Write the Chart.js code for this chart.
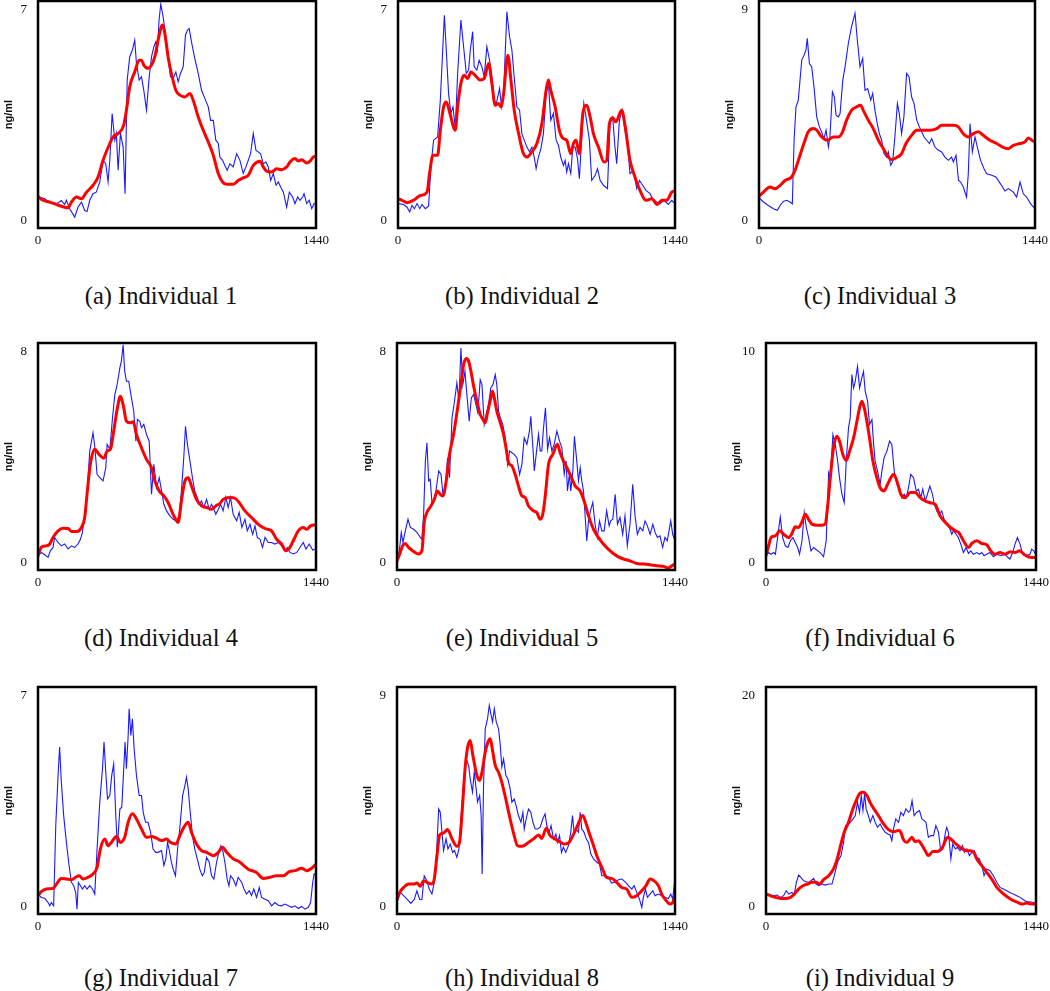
<!DOCTYPE html>
<html>
<head>
<meta charset="utf-8">
<script src="https://cdn.jsdelivr.net/npm/chart.js@4.4.0/dist/chart.umd.min.js"></script>
<style>
  body { margin: 0; background: #fff; width: 1050px; height: 991px; position: relative; overflow: hidden; }
  canvas { position: absolute; }
  .cap { position: absolute; font-family: "Liberation Serif", "Times New Roman", serif; font-size: 24.5px;
         line-height: 24px; white-space: nowrap; transform: translateX(-50%); color: #111; }
</style>
</head>
<body>
<script>
// x axis: minutes of the day, y axis: ng/ml
const xTicks = [0, 1440];
const yTickMax = [7, 7, 9, 8, 8, 10, 7, 9, 20];
const captions = ['(a) Individual 1', '(b) Individual 2', '(c) Individual 3',
                  '(d) Individual 4', '(e) Individual 5', '(f) Individual 6',
                  '(g) Individual 7', '(h) Individual 8', '(i) Individual 9'];

// [minute, ng/ml] -- blue = measured, red = fitted
const ind1Measured = [[5,0.78],[35,0.72],[60,0.6],[95,0.55],[121,0.66],[138,0.53],[147,0.67],[164,0.39],[190,0.11],[207,0.44],[225,0.61],[242,0.33],[254,0.3],[268,0.67],[285,0.89],[302,0.94],[320,1.28],[337,2.0],[351,1.89],[363,1.28],[372,2.0],[384,3.56],[398,2.67],[406,2.89],[415,1.67],[427,2.89],[441,2.44],[451,0.89],[462,4.67],[475,5.44],[489,5.67],[501,6.0],[510,5.22],[524,4.67],[536,4.78],[548,4.33],[562,3.67],[576,4.78],[588,5.44],[600,5.78],[610,5.94],[619,5.67],[627,6.67],[636,7.2],[648,6.78],[660,6.22],[674,5.44],[686,4.78],[700,4.72],[714,4.94],[726,4.61],[738,4.89],[752,5.11],[764,6.17],[774,6.33],[783,6.39],[795,5.94],[812,5.39],[830,4.89],[847,4.33],[864,4.06],[882,3.78],[894,3.33],[908,3.33],[921,2.67],[934,2.56],[942,2.11],[956,2.0],[968,1.83],[980,1.67],[994,1.89],[1011,1.78],[1029,2.22],[1046,2.0],[1063,1.56],[1077,1.78],[1089,2.0],[1101,2.22],[1115,2.89],[1129,2.33],[1141,2.28],[1153,2.22],[1167,1.89],[1181,1.94],[1193,1.78],[1205,1.33],[1219,1.56],[1233,1.17],[1245,1.28],[1257,1.11],[1271,0.94],[1288,0.44],[1302,0.94],[1319,0.78],[1331,0.56],[1345,0.78],[1357,0.67],[1371,0.78],[1378,0.89],[1392,0.56],[1405,0.67],[1418,0.39],[1430,0.56],[1440,0.56]];
const ind1Fitted = [[0,0.8],[26,0.67],[60,0.61],[95,0.53],[138,0.44],[156,0.42],[173,0.61],[199,0.78],[225,0.72],[251,0.94],[285,1.17],[311,1.44],[337,2.0],[372,2.56],[389,2.78],[415,2.89],[444,3.17],[458,3.67],[475,4.44],[501,4.94],[524,5.33],[536,5.33],[548,5.17],[570,5.06],[588,5.17],[605,5.44],[622,6.0],[645,6.5],[657,6.22],[674,5.44],[691,4.89],[714,4.33],[735,4.17],[761,4.11],[787,4.22],[804,4.0],[830,3.44],[856,3.0],[882,2.61],[908,2.17],[934,1.56],[956,1.28],[977,1.2],[1011,1.2],[1037,1.33],[1063,1.42],[1089,1.5],[1115,1.83],[1150,1.97],[1167,1.78],[1184,1.64],[1210,1.61],[1236,1.72],[1262,1.69],[1288,1.78],[1305,1.94],[1331,2.06],[1348,1.98],[1366,2.02],[1392,1.91],[1409,1.97],[1426,2.11],[1440,2.13]];

const ind2Measured = [[3,0.56],[29,0.53],[47,0.44],[61,0.28],[73,0.5],[85,0.39],[99,0.56],[113,0.39],[125,0.53],[142,0.39],[159,0.47],[171,1.78],[185,2.67],[206,2.78],[220,4.0],[241,6.83],[251,5.67],[263,4.22],[275,3.56],[286,3.78],[298,3.06],[310,4.89],[327,6.67],[341,5.78],[355,4.89],[367,5.0],[376,5.67],[388,6.28],[396,5.11],[410,5.0],[422,5.33],[436,5.11],[448,4.78],[462,5.78],[476,5.33],[488,4.78],[500,4.0],[511,3.89],[528,4.39],[538,3.78],[549,4.22],[566,6.94],[580,6.11],[592,5.67],[604,4.78],[618,3.78],[632,3.67],[644,2.89],[656,2.67],[670,2.44],[684,2.28],[696,2.44],[708,2.11],[718,1.72],[730,2.11],[743,2.39],[756,2.89],[770,4.22],[782,4.56],[794,3.33],[808,3.56],[822,2.67],[834,2.5],[846,2.11],[860,1.83],[869,2.0],[877,1.61],[886,1.89],[898,1.56],[909,2.44],[921,2.44],[933,2.06],[943,1.39],[954,2.67],[966,3.89],[980,3.33],[995,2.67],[1007,1.33],[1025,1.5],[1037,1.72],[1051,1.33],[1068,1.17],[1089,1.06],[1102,3.22],[1116,3.44],[1128,2.44],[1137,1.89],[1151,3.33],[1165,3.67],[1180,3.0],[1193,2.56],[1206,1.56],[1224,1.67],[1241,1.06],[1255,1.33],[1272,1.17],[1289,1.0],[1310,0.89],[1328,0.67],[1345,0.61],[1362,0.56],[1383,0.67],[1405,0.53],[1423,0.67],[1440,0.56]];
const ind2Fitted = [[0,0.72],[21,0.67],[47,0.59],[81,0.67],[116,0.83],[151,0.94],[164,1.56],[182,2.17],[206,2.17],[220,3.0],[237,3.78],[251,3.94],[268,3.61],[298,3.0],[310,3.78],[327,4.56],[344,4.83],[362,4.72],[379,4.94],[401,4.83],[427,4.67],[448,4.72],[471,5.22],[488,4.56],[505,3.83],[523,3.89],[535,3.78],[549,4.22],[571,5.5],[587,4.67],[604,3.67],[627,2.89],[649,2.28],[670,2.11],[696,2.28],[722,2.56],[748,3.22],[770,4.33],[782,4.67],[794,4.33],[817,3.78],[839,3.0],[860,2.72],[877,2.67],[898,2.22],[912,2.56],[926,2.67],[942,2.22],[961,3.56],[981,3.83],[999,3.44],[1016,2.89],[1042,2.44],[1071,1.94],[1085,2.0],[1099,3.22],[1116,3.42],[1132,3.28],[1163,3.67],[1180,3.17],[1206,2.0],[1232,1.44],[1258,1.0],[1288,0.67],[1319,0.72],[1348,0.53],[1371,0.67],[1397,0.67],[1423,0.94],[1440,0.98]];

const ind3Measured = [[0,0.97],[23,0.79],[49,0.64],[75,0.5],[96,0.43],[110,0.64],[127,0.81],[144,0.86],[162,0.79],[174,0.71],[183,3.43],[193,4.86],[205,5.14],[223,6.86],[235,7.07],[245,7.29],[252,7.79],[263,6.71],[275,6.57],[287,5.71],[301,4.43],[315,4.0],[327,3.79],[339,3.5],[350,3.86],[362,3.14],[370,3.57],[383,5.5],[393,5.29],[402,4.5],[414,4.43],[423,4.57],[437,6.0],[449,6.57],[466,7.57],[483,8.29],[501,8.86],[513,7.71],[527,6.57],[541,6.93],[553,5.57],[567,5.64],[583,5.14],[593,5.43],[605,4.71],[617,4.14],[628,3.71],[640,3.43],[652,2.86],[666,2.71],[675,2.93],[687,2.36],[697,2.5],[709,3.57],[722,5.0],[732,4.57],[744,3.71],[756,4.43],[770,6.29],[783,6.14],[796,5.29],[809,5.0],[823,4.29],[837,4.0],[849,3.79],[861,3.57],[875,3.43],[889,3.29],[901,3.5],[918,3.14],[936,3.0],[953,2.93],[970,2.71],[988,2.57],[1005,2.71],[1014,2.5],[1028,2.79],[1041,1.71],[1052,1.64],[1066,1.43],[1083,1.0],[1092,2.0],[1101,4.14],[1113,2.93],[1127,3.57],[1141,3.07],[1156,2.57],[1174,2.21],[1188,2.0],[1214,1.93],[1236,1.86],[1254,1.64],[1271,1.43],[1283,1.26],[1301,1.36],[1327,1.21],[1344,1.0],[1362,1.64],[1379,1.14],[1396,1.0],[1417,0.71],[1440,0.5]];
const ind3Fitted = [[0,1.03],[23,1.21],[57,1.43],[83,1.36],[110,1.5],[136,1.71],[170,1.86],[188,2.14],[214,2.79],[240,3.43],[257,3.79],[283,3.93],[301,3.86],[327,3.57],[356,3.43],[388,3.57],[414,3.57],[436,3.79],[457,4.29],[483,4.71],[510,4.86],[530,4.93],[544,4.71],[570,4.29],[596,3.93],[623,3.43],[649,3.07],[675,2.71],[692,2.6],[718,2.69],[744,2.86],[767,3.29],[796,3.64],[823,3.86],[857,3.86],[892,3.86],[927,3.93],[953,4.07],[979,4.07],[1014,4.07],[1040,4.0],[1066,3.71],[1092,3.57],[1118,3.71],[1144,3.79],[1170,3.64],[1205,3.43],[1240,3.29],[1271,3.14],[1301,3.07],[1327,3.21],[1362,3.29],[1388,3.36],[1405,3.53],[1423,3.43],[1440,3.36]];

const ind4Measured = [[0,0.25],[17,0.38],[35,0.29],[52,0.19],[64,0.44],[78,0.57],[86,0.95],[104,0.76],[121,0.63],[138,0.7],[156,0.51],[173,0.63],[190,0.57],[207,0.7],[220,0.88],[230,1.14],[242,1.77],[254,2.59],[268,4.24],[285,4.93],[294,4.42],[306,3.35],[320,3.22],[337,3.1],[351,3.6],[358,4.49],[372,4.3],[386,5.5],[398,6.38],[410,6.76],[424,7.4],[432,7.65],[441,8.28],[449,7.27],[458,6.89],[470,6.89],[484,6.26],[496,5.75],[507,4.61],[515,5.44],[527,5.37],[536,5.12],[548,5.25],[562,4.87],[576,4.61],[588,2.59],[600,3.73],[614,2.84],[628,3.22],[640,2.72],[652,2.21],[666,1.96],[683,1.77],[700,1.64],[717,1.58],[731,1.77],[743,2.72],[755,3.98],[764,5.18],[774,4.49],[787,3.86],[800,3.22],[812,2.72],[825,2.47],[835,2.21],[847,2.34],[859,2.09],[873,2.4],[887,2.02],[899,2.21],[911,2.02],[921,1.83],[934,2.02],[946,2.21],[959,1.96],[973,2.47],[985,2.09],[997,2.47],[1011,1.83],[1029,1.58],[1042,1.9],[1056,1.33],[1072,1.64],[1084,1.2],[1098,1.45],[1112,1.07],[1124,1.39],[1136,0.95],[1150,0.88],[1163,0.57],[1176,0.95],[1193,0.76],[1210,0.76],[1227,0.7],[1245,0.76],[1262,0.63],[1279,0.44],[1291,0.57],[1305,0.38],[1322,0.32],[1340,0.38],[1357,0.57],[1374,0.76],[1388,0.51],[1405,0.7],[1423,0.47],[1440,0.51]];
const ind4Fitted = [[0,0.25],[17,0.57],[43,0.63],[61,0.7],[78,0.95],[104,1.2],[130,1.3],[156,1.29],[173,1.18],[202,1.18],[225,1.33],[242,1.71],[254,2.59],[271,3.73],[294,4.3],[316,4.11],[341,3.96],[358,4.24],[375,4.3],[392,4.99],[410,5.82],[427,6.32],[441,6.0],[458,5.37],[475,5.31],[493,5.35],[510,4.87],[536,4.36],[562,3.92],[588,3.6],[605,3.1],[628,2.72],[652,2.53],[674,2.28],[700,1.83],[726,1.52],[743,2.34],[761,3.1],[778,3.22],[795,2.91],[821,2.4],[847,2.15],[873,2.09],[899,2.02],[921,2.15],[942,2.24],[959,2.4],[994,2.47],[1020,2.44],[1042,2.28],[1072,1.96],[1106,1.71],[1141,1.45],[1176,1.29],[1210,1.2],[1236,0.88],[1262,0.7],[1284,0.44],[1305,0.57],[1326,0.88],[1348,1.2],[1374,1.33],[1392,1.26],[1412,1.39],[1440,1.43]];

const ind5Measured = [[3,0.06],[14,0.57],[22,1.14],[31,0.76],[43,1.2],[57,1.64],[69,1.33],[86,1.26],[103,1.14],[121,0.95],[129,0.88],[138,1.83],[147,3.86],[155,4.55],[164,3.1],[172,3.16],[181,2.28],[193,2.34],[204,2.84],[216,3.48],[228,3.35],[238,2.59],[250,2.84],[262,3.98],[272,3.22],[285,5.5],[298,6.13],[310,6.83],[321,6.13],[331,8.15],[341,6.76],[352,7.27],[362,6.38],[374,5.37],[385,6.26],[397,6.38],[409,6.0],[419,5.69],[431,6.95],[440,6.76],[452,5.25],[462,5.63],[474,6.0],[486,6.64],[497,6.76],[509,7.14],[517,6.76],[526,5.75],[535,5.5],[548,5.25],[560,4.74],[573,3.73],[583,4.24],[595,4.17],[607,4.11],[621,3.98],[635,3.35],[647,3.73],[659,4.74],[673,4.49],[686,4.99],[693,5.56],[704,4.36],[711,3.48],[721,4.11],[733,4.87],[742,4.24],[750,4.24],[759,5.12],[769,5.88],[780,4.3],[790,4.74],[802,4.24],[814,4.49],[828,4.99],[842,4.61],[854,4.36],[866,3.35],[876,3.86],[883,2.72],[893,3.35],[900,2.72],[911,3.48],[919,4.8],[931,3.86],[940,3.1],[949,3.6],[957,3.1],[966,2.72],[974,1.83],[983,0.82],[992,1.58],[1004,2.02],[1014,2.28],[1026,1.45],[1038,0.95],[1049,1.58],[1061,1.2],[1073,1.2],[1086,1.96],[1099,1.39],[1107,1.58],[1118,1.64],[1130,2.59],[1142,1.45],[1155,1.71],[1169,1.07],[1181,1.77],[1193,0.63],[1207,1.45],[1221,2.97],[1233,1.77],[1245,1.07],[1259,1.33],[1273,1.2],[1285,1.58],[1297,1.39],[1311,1.07],[1325,1.45],[1337,1.14],[1349,0.95],[1362,1.01],[1376,0.57],[1388,0.95],[1400,0.82],[1418,1.58],[1428,1.07],[1440,0.82]];
const ind5Fitted = [[0,0.06],[14,0.32],[29,0.63],[43,0.72],[60,0.57],[86,0.42],[112,0.32],[129,0.44],[141,1.52],[155,1.9],[176,2.15],[193,2.4],[210,2.72],[224,2.59],[238,2.53],[255,3.1],[272,4.11],[293,4.87],[314,5.88],[331,6.76],[345,7.52],[359,7.75],[371,7.65],[383,7.27],[397,6.7],[414,6.13],[431,5.63],[445,5.44],[457,5.31],[469,5.69],[486,6.26],[495,6.51],[504,6.26],[517,5.75],[535,5.31],[552,4.87],[566,4.3],[578,3.79],[595,3.67],[612,3.35],[629,2.91],[647,2.53],[664,2.47],[681,2.15],[707,1.96],[724,1.9],[742,1.64],[755,1.83],[767,2.47],[785,3.73],[807,4.11],[831,4.49],[845,4.17],[862,3.86],[880,3.6],[900,3.29],[923,2.91],[949,2.72],[969,2.34],[992,1.77],[1018,1.26],[1043,0.95],[1069,0.7],[1104,0.44],[1138,0.25],[1173,0.13],[1207,0.06],[1242,-0.04],[1276,-0.06],[1311,-0.09],[1345,-0.13],[1380,-0.15],[1406,-0.21],[1423,-0.13],[1440,-0.06]];

const ind6Measured = [[0,0.32],[14,0.47],[27,0.39],[41,0.47],[50,0.39],[62,1.18],[76,2.16],[89,1.18],[103,0.79],[117,0.71],[130,1.03],[144,1.18],[156,0.95],[169,0.71],[179,0.39],[192,1.03],[204,2.37],[215,1.66],[227,1.18],[240,0.55],[254,0.71],[272,0.58],[289,0.47],[307,0.27],[321,1.03],[334,4.27],[343,4.03],[357,6.08],[369,5.61],[382,4.82],[392,4.03],[405,3.24],[417,2.84],[428,4.82],[440,6.4],[449,6.87],[458,8.93],[467,8.29],[476,8.61],[488,9.32],[499,8.29],[511,8.77],[520,9.08],[529,8.14],[542,7.66],[552,6.56],[565,6.79],[574,5.61],[582,4.82],[595,4.34],[609,3.71],[618,4.34],[630,4.98],[645,5.29],[659,5.77],[671,5.61],[684,4.34],[698,3.71],[712,3.55],[724,3.08],[737,3.24],[748,3.08],[760,3.55],[772,4.19],[787,4.03],[801,3.4],[813,3.48],[826,3.08],[836,3.48],[849,2.92],[861,3.24],[874,3.63],[888,3.24],[898,2.76],[911,2.45],[923,2.29],[937,2.45],[950,2.05],[964,1.82],[978,1.66],[991,1.34],[1000,1.5],[1014,1.34],[1026,1.18],[1039,0.87],[1053,0.47],[1067,0.71],[1080,0.43],[1092,0.55],[1106,0.39],[1124,0.47],[1138,0.39],[1151,0.47],[1163,0.32],[1177,0.39],[1195,0.47],[1213,0.27],[1231,0.39],[1252,0.32],[1275,0.39],[1287,0.27],[1301,0.16],[1316,0.47],[1328,0.87],[1341,1.18],[1355,0.87],[1369,0.39],[1387,0.32],[1408,0.39],[1417,0.63],[1429,0.55],[1440,0.32]];
const ind6Fitted = [[0,0.32],[14,0.79],[27,1.18],[50,1.26],[73,1.5],[94,1.34],[121,1.18],[138,1.37],[156,1.69],[174,1.66],[192,1.94],[210,2.29],[227,2.05],[245,1.82],[272,1.77],[298,1.77],[316,1.82],[328,2.61],[343,4.03],[360,5.45],[378,6.0],[392,5.77],[410,5.13],[428,4.85],[446,5.29],[467,5.92],[485,6.71],[499,7.35],[511,7.66],[524,7.35],[538,6.71],[552,5.92],[570,4.82],[591,4.03],[609,3.55],[630,3.4],[648,3.71],[666,4.03],[680,4.19],[698,3.87],[719,3.24],[742,3.08],[769,3.32],[795,3.32],[822,3.08],[849,2.92],[875,2.84],[902,2.76],[929,2.21],[957,1.9],[984,1.66],[1010,1.5],[1028,1.42],[1053,1.03],[1080,0.71],[1098,0.9],[1124,1.03],[1151,0.9],[1177,0.84],[1199,0.55],[1222,0.39],[1248,0.47],[1275,0.39],[1302,0.51],[1328,0.47],[1351,0.55],[1376,0.39],[1399,0.27],[1417,0.24],[1440,0.24]];

const ind7Measured = [[0,0.41],[17,0.3],[35,0.27],[52,0.13],[61,0.02],[69,0.13],[81,0.02],[92,2.69],[104,4.36],[112,5.3],[121,4.13],[133,3.02],[147,2.13],[161,1.36],[173,0.8],[185,0.69],[195,0.47],[202,-0.09],[209,0.8],[220,0.69],[230,0.58],[242,0.69],[254,0.58],[268,0.69],[282,0.58],[294,0.41],[306,1.91],[320,3.47],[334,4.58],[342,5.47],[351,4.47],[360,3.58],[372,3.69],[382,4.36],[392,4.74],[403,3.02],[411,1.97],[424,3.24],[434,3.3],[444,4.58],[451,5.47],[458,4.58],[467,5.69],[472,6.58],[481,5.69],[489,6.24],[498,5.24],[510,4.36],[524,3.69],[536,3.69],[545,3.13],[557,2.8],[570,2.8],[583,2.47],[596,1.91],[610,1.8],[622,1.8],[640,1.86],[652,1.36],[662,1.58],[671,2.13],[679,1.91],[691,1.47],[700,1.24],[712,1.02],[723,1.91],[735,2.63],[749,3.69],[761,4.02],[769,4.3],[778,3.91],[787,3.24],[800,2.36],[812,1.91],[825,1.58],[838,1.24],[851,1.02],[861,1.13],[873,1.63],[887,1.47],[899,1.02],[911,0.91],[925,1.47],[937,1.8],[947,2.02],[959,1.8],[968,1.47],[980,0.91],[989,0.69],[997,1.02],[1011,0.91],[1025,0.69],[1037,0.97],[1055,0.8],[1067,0.58],[1080,0.41],[1094,0.52],[1106,0.36],[1118,0.58],[1132,0.3],[1146,0.63],[1158,0.3],[1176,0.24],[1193,0.19],[1210,0.02],[1227,0.13],[1245,0.04],[1262,0.02],[1279,0.08],[1297,0.02],[1314,-0.03],[1331,0.02],[1348,-0.07],[1366,0.0],[1383,-0.09],[1400,-0.03],[1412,0.13],[1423,0.8],[1430,1.08],[1440,1.04]];
const ind7Fitted = [[0,0.36],[17,0.49],[43,0.58],[78,0.6],[95,0.74],[121,0.93],[147,0.91],[173,0.89],[195,0.97],[213,1.02],[233,0.91],[259,0.97],[285,1.08],[306,1.3],[323,1.91],[346,2.24],[363,2.02],[380,2.13],[406,2.33],[427,2.13],[449,2.3],[467,2.8],[489,3.08],[510,2.91],[536,2.58],[562,2.3],[588,2.33],[614,2.27],[640,2.19],[666,2.24],[686,2.13],[714,2.08],[735,2.36],[755,2.63],[778,2.8],[795,2.47],[821,2.08],[847,1.86],[873,1.8],[908,1.69],[934,1.8],[956,1.97],[977,1.8],[1008,1.6],[1046,1.47],[1089,1.24],[1132,1.13],[1167,0.93],[1201,0.97],[1236,1.02],[1271,1.02],[1302,1.16],[1331,1.19],[1366,1.27],[1392,1.19],[1418,1.27],[1440,1.41]];

const ind8Measured = [[3,0.24],[17,0.6],[34,0.46],[52,0.31],[72,0.13],[90,0.31],[103,0.67],[117,0.31],[129,0.29],[141,1.31],[155,1.1],[167,0.74],[181,0.53],[193,1.03],[204,2.17],[216,4.17],[224,4.03],[233,3.17],[241,2.39],[254,2.89],[264,2.46],[276,2.67],[288,2.31],[298,2.39],[310,2.1],[321,2.46],[331,3.74],[345,5.31],[359,6.31],[371,6.03],[379,5.46],[391,4.89],[400,5.74],[410,5.03],[417,4.46],[428,4.74],[436,3.89],[441,1.39],[448,5.03],[457,7.6],[469,8.03],[478,8.6],[486,8.24],[495,7.89],[504,8.46],[514,7.89],[526,7.6],[535,6.89],[543,5.96],[552,6.31],[564,5.6],[574,5.46],[586,5.03],[595,4.46],[607,4.6],[617,4.31],[629,3.89],[642,3.6],[652,4.03],[659,3.31],[669,3.74],[681,4.17],[693,4.03],[704,3.6],[716,3.31],[728,3.31],[742,3.39],[755,3.74],[767,3.96],[776,3.46],[788,3.17],[798,3.46],[811,2.89],[823,3.1],[831,2.74],[842,3.03],[852,2.31],[862,2.53],[874,2.31],[888,2.6],[900,3.17],[909,3.89],[917,3.17],[928,3.31],[940,3.17],[949,4.03],[957,3.31],[969,3.17],[980,2.89],[992,2.74],[1004,2.24],[1018,2.03],[1035,1.89],[1049,1.81],[1061,1.31],[1078,1.31],[1095,1.24],[1112,1.0],[1130,1.03],[1147,1.14],[1164,1.17],[1181,1.06],[1199,0.89],[1216,0.74],[1228,0.89],[1242,0.6],[1256,0.31],[1268,-0.04],[1276,0.39],[1287,0.74],[1297,0.39],[1311,0.53],[1325,0.67],[1337,0.46],[1354,0.53],[1371,0.46],[1388,0.39],[1406,0.34],[1418,0.53],[1428,0.31],[1440,1.24]];
const ind8Fitted = [[0,0.31],[14,0.6],[34,0.81],[60,0.96],[86,0.96],[103,1.0],[121,0.86],[138,1.1],[155,1.03],[181,0.96],[193,1.17],[207,2.17],[221,3.06],[241,3.14],[262,3.29],[285,2.89],[310,2.57],[324,2.74],[336,3.89],[354,6.03],[366,6.81],[379,7.1],[393,6.46],[414,5.6],[428,5.39],[440,5.74],[457,6.6],[471,7.03],[483,7.17],[495,6.67],[509,6.03],[526,5.74],[543,5.31],[569,4.39],[586,3.74],[607,3.03],[624,2.6],[647,2.57],[664,2.63],[681,2.74],[707,2.89],[733,3.06],[750,2.91],[773,3.34],[793,3.03],[819,2.89],[842,2.77],[866,2.67],[888,2.71],[911,3.03],[935,3.46],[962,3.89],[983,3.46],[1000,3.03],[1018,2.6],[1038,2.1],[1061,1.67],[1086,1.24],[1112,1.2],[1138,1.03],[1164,0.81],[1190,0.74],[1216,0.39],[1242,0.46],[1268,0.67],[1290,0.89],[1311,1.17],[1331,1.1],[1354,0.89],[1371,0.53],[1388,0.31],[1414,0.1],[1428,0.17],[1440,0.46]];

const ind9Measured = [[0,1.27],[23,1.08],[41,1.02],[59,1.08],[76,0.86],[94,1.02],[108,1.49],[121,1.17],[138,1.33],[151,1.17],[162,2.29],[174,2.98],[186,2.76],[201,2.44],[215,2.35],[227,2.29],[240,2.44],[254,2.67],[268,2.13],[281,1.97],[298,2.13],[316,2.03],[334,2.13],[352,2.13],[364,2.92],[382,4.19],[400,4.83],[414,6.1],[424,7.68],[440,7.84],[458,8.16],[476,8.63],[488,9.9],[499,8.95],[508,10.54],[517,9.11],[526,10.7],[534,9.27],[543,8.79],[556,8.0],[570,8.63],[582,8.0],[595,7.52],[609,7.84],[623,7.37],[636,7.05],[650,6.89],[662,6.79],[671,6.25],[680,7.37],[692,8.32],[707,8.0],[719,8.95],[733,8.63],[746,9.27],[760,8.95],[769,9.11],[779,10.06],[790,8.63],[804,8.95],[819,9.11],[831,8.32],[843,8.16],[853,8.0],[866,6.57],[879,6.73],[893,6.73],[906,7.68],[920,7.05],[932,5.3],[943,5.46],[957,7.05],[964,7.52],[973,7.05],[986,4.51],[996,5.94],[1010,5.46],[1021,5.62],[1035,5.3],[1048,5.78],[1058,5.14],[1071,5.46],[1085,4.83],[1097,5.14],[1110,5.3],[1124,4.67],[1138,4.51],[1151,3.87],[1163,2.92],[1177,3.56],[1195,3.4],[1213,2.92],[1231,2.29],[1248,1.81],[1266,1.65],[1284,1.49],[1301,1.33],[1319,1.17],[1337,1.02],[1355,0.86],[1373,0.63],[1390,0.44],[1408,0.44],[1426,0.38],[1440,0.32]];
const ind9Fitted = [[0,1.17],[23,1.02],[50,0.86],[76,0.76],[103,0.76],[130,0.86],[151,1.17],[174,1.65],[197,1.97],[222,2.13],[245,2.29],[268,2.29],[286,2.13],[307,2.54],[334,2.92],[360,3.56],[382,4.67],[400,5.94],[417,7.05],[440,8.0],[463,9.27],[485,10.22],[502,10.79],[520,10.86],[538,10.54],[559,9.75],[582,9.11],[605,8.48],[627,7.84],[653,7.3],[680,7.11],[707,7.21],[719,7.05],[733,6.35],[751,6.1],[769,6.41],[778,6.57],[795,6.16],[813,6.25],[831,5.84],[849,5.3],[866,4.83],[890,5.21],[911,5.21],[941,5.62],[968,6.57],[985,6.41],[1003,6.1],[1024,5.78],[1048,5.46],[1071,5.3],[1092,5.3],[1110,5.08],[1124,4.51],[1151,3.87],[1177,3.24],[1204,2.6],[1231,1.81],[1257,1.33],[1284,0.95],[1310,0.63],[1337,0.44],[1364,0.22],[1390,0.32],[1417,0.22],[1440,0.22]];

const measured = [ind1Measured, ind2Measured, ind3Measured, ind4Measured, ind5Measured,
                  ind6Measured, ind7Measured, ind8Measured, ind9Measured];
const fitted = [ind1Fitted, ind2Fitted, ind3Fitted, ind4Fitted, ind5Fitted,
                ind6Fitted, ind7Fitted, ind8Fitted, ind9Fitted];

// plot frame of each panel on the page (left, right, top, bottom)
const frames = [
  [38, 316, 1, 228], [398, 675, 1, 228], [759, 1035, 1, 228],
  [38, 316, 343, 570], [397, 675, 343, 570], [766, 1036, 343, 570],
  [38, 316, 687, 914], [397, 675, 687, 914], [766, 1036, 687, 914]
];
const capX = [161, 522, 880];
const capY = [284, 626, 966];

const AXIS_W = 38, AXIS_H = 26, PAD_T = 20, PAD_R = 26;

// black box round the plot area
const frameBox = {
  id: 'frameBox',
  afterDatasetsDraw(chart) {
    const { ctx, chartArea: a } = chart;
    ctx.save();
    ctx.strokeStyle = '#000';
    ctx.lineWidth = 2.5;
    ctx.strokeRect(a.left, a.top, a.right - a.left, a.bottom - a.top);
    ctx.restore();
  }
};

const toPoints = arr => arr.map(p => ({ x: p[0], y: p[1] }));
const tickFont = { family: '"Liberation Serif", "Times New Roman", serif', size: 13 };

frames.forEach((f, i) => {
  const [l, r, t, b] = f;
  const canvas = document.createElement('canvas');
  const w = (r - l) + AXIS_W + PAD_R;
  const h = (b - t) + PAD_T + AXIS_H;
  canvas.width = w;
  canvas.height = h;
  canvas.style.left = (l - AXIS_W) + 'px';
  canvas.style.top = (t - PAD_T) + 'px';
  canvas.style.width = w + 'px';
  canvas.style.height = h + 'px';
  document.body.appendChild(canvas);

  const yMax = yTickMax[i];

  new Chart(canvas.getContext('2d'), {
    type: 'line',
    data: {
      datasets: [
        {
          data: toPoints(measured[i]),
          borderColor: '#1a1aff',
          borderWidth: 1.1,
          pointRadius: 0,
          tension: 0,
          order: 1
        },
        {
          data: toPoints(fitted[i]),
          borderColor: '#ff0000',
          borderWidth: 3,
          pointRadius: 0,
          cubicInterpolationMode: 'monotone',
          order: 0
        }
      ]
    },
    options: {
      responsive: false,
      animation: false,
      devicePixelRatio: 1,
      layout: { padding: { top: PAD_T, right: PAD_R, left: 0, bottom: 0 } },
      plugins: { legend: { display: false }, tooltip: { enabled: false } },
      scales: {
        x: {
          type: 'linear',
          min: 0,
          max: 1440,
          grid: { display: false, drawTicks: false },
          border: { display: false },
          afterBuildTicks: s => { s.ticks = xTicks.map(v => ({ value: v })); },
          afterFit: s => { s.height = AXIS_H; },
          ticks: { autoSkip: false, maxRotation: 0, padding: 5, color: '#111', font: tickFont,
                   callback: v => String(v) }
        },
        y: {
          type: 'linear',
          min: -yMax * 0.036,
          max: yMax * 1.043,
          grid: { display: false, drawTicks: false },
          border: { display: false },
          afterBuildTicks: s => { s.ticks = [0, yMax].map(v => ({ value: v })); },
          afterFit: s => { s.width = AXIS_W; },
          ticks: { padding: 11, color: '#111', font: tickFont, callback: v => String(v) },
          title: {
            display: true,
            text: 'ng/ml',
            color: '#111',
            padding: { top: 2, bottom: 0 },
            font: { family: '"Liberation Sans", Arial, sans-serif', size: 11, weight: 'bold' }
          }
        }
      }
    },
    plugins: [frameBox]
  });

  const cap = document.createElement('div');
  cap.className = 'cap';
  cap.textContent = captions[i];
  cap.style.left = capX[i % 3] + 'px';
  cap.style.top = capY[Math.floor(i / 3)] + 'px';
  document.body.appendChild(cap);
});
</script>
</body>
</html>
